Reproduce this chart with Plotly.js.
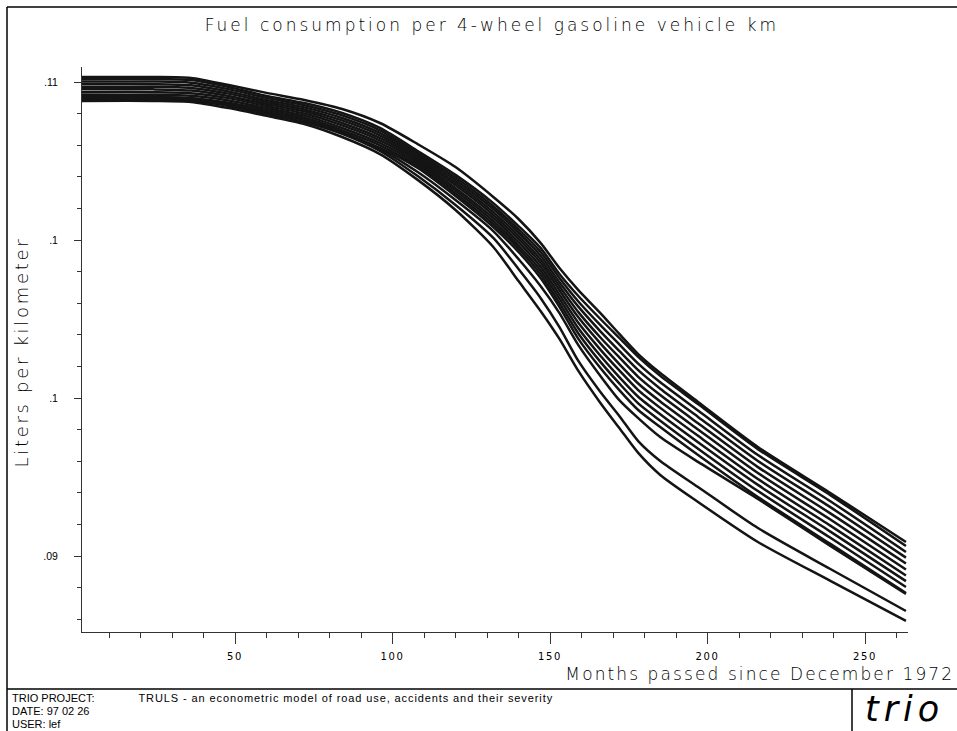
<!DOCTYPE html>
<html>
<head>
<meta charset="utf-8">
<script src="https://cdn.plot.ly/plotly-3.0.1.min.js"></script>
<style>
  html, body { margin: 0; padding: 0; background: #fff; }
  #chart { width: 957px; height: 731px; }
  /* wide, plotter-style lettering */
  #chart .gtitle { letter-spacing: 3px; }
  #chart g.annotation[data-index="0"] text { letter-spacing: 2.1px; }
  #chart g.annotation[data-index="1"] text { letter-spacing: 2.7px; }
  #chart g.annotation[data-index="2"] text { letter-spacing: 5px; }
  #chart g.annotation[data-index="4"] text { letter-spacing: 0.9px; }
  #chart .xtick text { letter-spacing: 1.6px; }
</style>
</head>
<body>
<div id="chart"></div>
<script>
// Months passed since December 1972
const months = [1, 24, 36, 48, 60, 72, 84, 96, 108, 120, 132, 140, 147, 153, 159, 166, 172, 178, 185, 197, 216, 239, 263];

// Fuel consumption per vehicle km (litres), one array per simulated path
const pathHigh = [0.11021, 0.11021, 0.11017, 0.10987, 0.10954, 0.10924, 0.10886, 0.10827, 0.10738, 0.10641, 0.10515, 0.10422, 0.10321, 0.10215, 0.10122, 0.10025, 0.09937, 0.09852, 0.09772, 0.09650, 0.09460, 0.09266, 0.09059];
const pathA = [0.11013, 0.11013, 0.11008, 0.10979, 0.10941, 0.10911, 0.10869, 0.10806, 0.10709, 0.10608, 0.10489, 0.10392, 0.10300, 0.10190, 0.10097, 0.10000, 0.09920, 0.09840, 0.09760, 0.09641, 0.09451, 0.09257, 0.09042];
const pathB = [0.11002, 0.11002, 0.10997, 0.10970, 0.10933, 0.10902, 0.10859, 0.10796, 0.10700, 0.10597, 0.10476, 0.10378, 0.10284, 0.10173, 0.10074, 0.09974, 0.09893, 0.09812, 0.09733, 0.09614, 0.09426, 0.09231, 0.09017];
const pathC = [0.10991, 0.10991, 0.10986, 0.10960, 0.10924, 0.10893, 0.10848, 0.10785, 0.10691, 0.10586, 0.10464, 0.10365, 0.10268, 0.10155, 0.10052, 0.09948, 0.09865, 0.09784, 0.09706, 0.09587, 0.09401, 0.09206, 0.08993];
const pathD = [0.10980, 0.10980, 0.10975, 0.10951, 0.10916, 0.10884, 0.10838, 0.10775, 0.10682, 0.10575, 0.10451, 0.10351, 0.10252, 0.10138, 0.10029, 0.09922, 0.09838, 0.09756, 0.09679, 0.09560, 0.09375, 0.09180, 0.08968];
const pathE = [0.10969, 0.10969, 0.10964, 0.10941, 0.10907, 0.10876, 0.10827, 0.10764, 0.10673, 0.10564, 0.10439, 0.10338, 0.10237, 0.10121, 0.10007, 0.09897, 0.09810, 0.09728, 0.09652, 0.09534, 0.09350, 0.09154, 0.08943];
const pathF = [0.10957, 0.10957, 0.10953, 0.10932, 0.10899, 0.10867, 0.10817, 0.10754, 0.10664, 0.10552, 0.10426, 0.10324, 0.10221, 0.10103, 0.09984, 0.09871, 0.09783, 0.09700, 0.09625, 0.09507, 0.09325, 0.09128, 0.08918];
const pathG = [0.10946, 0.10946, 0.10942, 0.10922, 0.10890, 0.10858, 0.10806, 0.10743, 0.10655, 0.10541, 0.10413, 0.10310, 0.10205, 0.10086, 0.09961, 0.09845, 0.09755, 0.09672, 0.09598, 0.09480, 0.09300, 0.09103, 0.08894];
const pathH = [0.10935, 0.10935, 0.10931, 0.10913, 0.10882, 0.10849, 0.10796, 0.10733, 0.10646, 0.10530, 0.10401, 0.10297, 0.10189, 0.10068, 0.09939, 0.09819, 0.09728, 0.09644, 0.09571, 0.09453, 0.09274, 0.09077, 0.08869];
const pathI = [0.10924, 0.10924, 0.10920, 0.10903, 0.10873, 0.10840, 0.10785, 0.10722, 0.10637, 0.10519, 0.10388, 0.10283, 0.10173, 0.10051, 0.09916, 0.09793, 0.09700, 0.09616, 0.09544, 0.09426, 0.09249, 0.09051, 0.08844];
const pathLow3 = [0.10937, 0.10937, 0.10932, 0.10907, 0.10873, 0.10840, 0.10789, 0.10717, 0.10620, 0.10502, 0.10371, 0.10253, 0.10139, 0.10025, 0.09890, 0.09760, 0.09658, 0.09582, 0.09502, 0.09397, 0.09241, 0.09042, 0.08840];
const pathLow2 = [0.10928, 0.10928, 0.10924, 0.10899, 0.10865, 0.10831, 0.10781, 0.10709, 0.10603, 0.10481, 0.10342, 0.10211, 0.10089, 0.09966, 0.09823, 0.09692, 0.09591, 0.09485, 0.09401, 0.09291, 0.09118, 0.08945, 0.08768];
const pathLow1 = [0.10920, 0.10920, 0.10916, 0.10890, 0.10857, 0.10823, 0.10768, 0.10696, 0.10587, 0.10460, 0.10304, 0.10160, 0.10034, 0.09916, 0.09781, 0.09646, 0.09540, 0.09435, 0.09342, 0.09228, 0.09059, 0.08895, 0.08726];

const paths = [pathHigh, pathA, pathB, pathC, pathD, pathE, pathF, pathG, pathH, pathI, pathLow3, pathLow2, pathLow1];

// Axis ticks
const xTickVals = [50, 100, 150, 200, 250];
const xTickText = ['50', '100', '150', '200', '250'];
const yTickVals = [0.09, 0.0966667, 0.1033333, 0.11];
const yTickText = ['.09', '.1', '.1', '.11'];

const traces = paths.map(vals => ({
  type: 'scatter',
  mode: 'lines',
  x: months,
  y: vals,
  line: { color: '#141414', width: 2.5, shape: 'spline', smoothing: 0.7 },
  hoverinfo: 'skip'
}));

// paper coordinates for the frame and footer (plot area: x 82..908, y 67..632)
const px = v => (v - 82) / 826;
const py = v => (632 - v) / 565;

const plotter = '"DejaVu Sans", sans-serif';
const footerFont = { family: '"Liberation Sans", Arial, sans-serif', size: 11, color: '#000' };

const layout = {
  width: 957,
  height: 731,
  margin: { l: 82, r: 49, t: 67, b: 99 },
  paper_bgcolor: '#fff',
  plot_bgcolor: '#fff',
  showlegend: false,
  hovermode: false,
  title: {
    text: 'Fuel consumption per 4-wheel gasoline vehicle km',
    xref: 'container', x: 0.514, xanchor: 'center',
    yref: 'container', y: 1 - 25 / 731, yanchor: 'middle',
    font: { family: plotter, size: 17, color: '#000', weight: 200 }
  },
  xaxis: {
    range: [1.43, 263.65],
    showgrid: false, zeroline: false,
    showline: true, linecolor: '#333', linewidth: 1,
    ticks: 'outside', ticklen: 11, tickwidth: 1, tickcolor: '#333',
    tickvals: xTickVals, ticktext: xTickText,
    ticklabelstandoff: 4,
    tickfont: { family: plotter, size: 10, color: '#000' },
    minor: { dtick: 10, tick0: 0, ticks: 'outside', ticklen: 5, tickwidth: 1, tickcolor: '#333', showgrid: false }
  },
  yaxis: {
    range: [0.086793, 0.110633],
    showgrid: false, zeroline: false,
    showline: true, linecolor: '#333', linewidth: 1,
    ticks: 'outside', ticklen: 7, tickwidth: 1, tickcolor: '#333',
    tickvals: yTickVals, ticktext: yTickText,
    ticklabelstandoff: 14,
    tickfont: { family: '"Liberation Sans", Arial, sans-serif', size: 10.5, color: '#000' },
    minor: { dtick: 0.02 / 15, tick0: 0.09, ticks: 'outside', ticklen: 4, tickwidth: 1, tickcolor: '#333', showgrid: false }
  },
  annotations: [
    { text: 'Months passed since December 1972', xref: 'paper', yref: 'paper',
      x: px(760), y: py(673.5), xanchor: 'center', yanchor: 'middle', showarrow: false,
      font: { family: plotter, size: 17, color: '#000', weight: 200 } },
    { text: 'Liters per kilometer', xref: 'paper', yref: 'paper', textangle: -90,
      x: px(20.5), y: py(352), xanchor: 'center', yanchor: 'middle', showarrow: false,
      font: { family: plotter, size: 18, color: '#000', weight: 200 } },
    { text: 'trio', xref: 'paper', yref: 'paper',
      x: px(904), y: py(709), xanchor: 'center', yanchor: 'middle', showarrow: false,
      font: { family: plotter, size: 35, color: '#000', weight: 200, style: 'italic' } },
    { text: 'TRIO PROJECT:', xref: 'paper', yref: 'paper', x: px(10), y: py(698),
      xanchor: 'left', yanchor: 'middle', showarrow: false, font: footerFont },
    { text: 'TRULS - an econometric model of road use, accidents and their severity', xref: 'paper', yref: 'paper',
      x: px(168), y: py(698), xanchor: 'left', yanchor: 'middle', showarrow: false, font: footerFont },
    { text: 'DATE: 97 02 26', xref: 'paper', yref: 'paper', x: px(10), y: py(711),
      xanchor: 'left', yanchor: 'middle', showarrow: false, font: footerFont },
    { text: 'USER: lef', xref: 'paper', yref: 'paper', x: px(10), y: py(724),
      xanchor: 'left', yanchor: 'middle', showarrow: false, font: footerFont }
  ],
  shapes: [
    // page frame
    { type: 'line', xref: 'paper', yref: 'paper', x0: px(7), x1: px(960), y0: py(7), y1: py(7), line: { color: '#000', width: 1.5 } },
    { type: 'line', xref: 'paper', yref: 'paper', x0: px(7), x1: px(7), y0: py(7), y1: py(735), line: { color: '#000', width: 1.5 } },
    // footer separators
    { type: 'line', xref: 'paper', yref: 'paper', x0: px(7), x1: px(960), y0: py(689), y1: py(689), line: { color: '#000', width: 1.5 } },
    { type: 'line', xref: 'paper', yref: 'paper', x0: px(852), x1: px(852), y0: py(689), y1: py(735), line: { color: '#000', width: 1.5 } }
  ]
};

Plotly.newPlot('chart', traces, layout, { staticPlot: true, displayModeBar: false });
</script>
</body>
</html>
